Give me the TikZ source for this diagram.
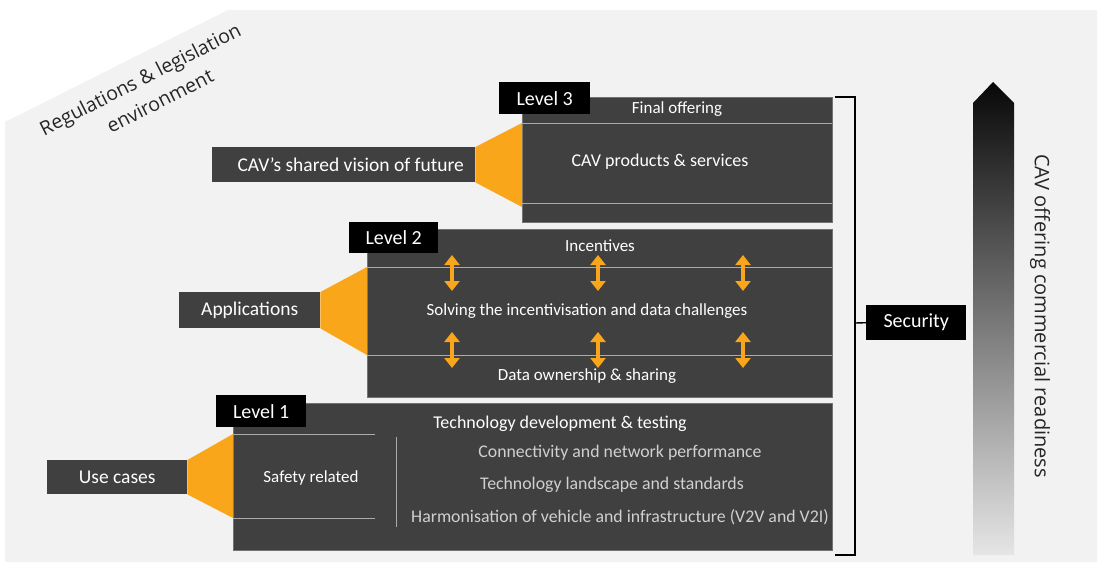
\documentclass[tikz,border=0pt]{standalone}
\usepackage{fontspec}
\setmainfont{Carlito}
\newfontfamily\outerfont{Open Sans}
\usetikzlibrary{arrows.meta}
\definecolor{panel}{HTML}{F2F2F2}
\definecolor{boxgrey}{HTML}{404040}
\definecolor{ruleline}{HTML}{ABABAB}
\definecolor{amber}{HTML}{FAA61A}
\definecolor{softtext}{HTML}{D0D0D0}
\tikzset{
  darkbox/.style={fill=boxgrey, draw=black!55, line width=0.6pt, inner sep=0pt, anchor=north west},
  levelbox/.style={fill=black, text=white, inner sep=0pt, anchor=north west, font=\fontsize{20}{24}\selectfont},
  labelbox/.style={fill=boxgrey, text=white, inner sep=0pt, anchor=north west, font=\fontsize{19.5}{23}\selectfont},
  boxtext/.style={text=white, font=\fontsize{17}{20}\selectfont},
  softline/.style={text=softtext, font=\fontsize{17.8}{21}\selectfont},
  divider/.style={draw=ruleline, line width=1pt},
  funnel/.style={fill=amber, draw=none},
  twoway/.style={draw=amber, line width=4.5pt, {Triangle[width=15pt,length=10pt]}-{Triangle[width=15pt,length=10pt]}},
  bracket/.style={draw=black, line width=1.4pt},
  outertext/.style={font=\outerfont\fontsize{19.5}{23}\selectfont, text=black!85}
}
\begin{document}
\begin{tikzpicture}[x=1pt,y=-1pt]
\useasboundingbox (0,0) rectangle (1103,565);
\fill[white] (0,0) rectangle (1103,565);
% light environment panel with cut corner
\fill[panel] (5,122) -- (228,10) -- (1097,10) -- (1097,562) -- (5,562) -- cycle;
\node[rotate=27, outertext] (envA) at (141,81) {Regulations \& legislation};
\node[rotate=27, outertext] (envB) at (160,101) {environment};

% ---------- Level 3 ----------
\node[darkbox, minimum width=310, minimum height=125] (b3) at (522,97) {};
\draw[divider] (522,123) -- (832,123);
\draw[divider] (522,203) -- (832,203);
\node[boxtext] (final) at (677,109) {Final offering};
\node[boxtext, font=\fontsize{18}{21}\selectfont] (prod) at (660,162) {CAV products \& services};
\node[labelbox, minimum width=263, minimum height=35] (vision) at (212,147) {\hspace*{14pt}CAV's shared vision of future};
\fill[funnel] (vision.north east) -- (522,123) -- (522,207) -- (vision.south east) -- cycle;
\node[levelbox, minimum width=91, minimum height=32] (lv3) at (499,82) {Level 3};

% ---------- Level 2 ----------
\node[darkbox, minimum width=465, minimum height=168] (b2) at (367,229) {};
\draw[divider] (367,267) -- (832,267);
\draw[divider] (367,355) -- (832,355);
\node[boxtext] (incent) at (600,246) {Incentives};
\node[boxtext] (solve) at (587,311) {Solving the incentivisation and data challenges};
\node[boxtext] (owner) at (587,376) {Data ownership \& sharing};
\node[labelbox, minimum width=141, minimum height=36] (apps) at (179,292) {Applications};
\fill[funnel] (apps.north east) -- (367,267) -- (367,355) -- (apps.south east) -- cycle;
\node[levelbox, minimum width=89, minimum height=31] (lv2) at (349,222) {Level 2};
\foreach \x [count=\i] in {452,598,743} {
  \coordinate (ua\i) at (\x,255); \coordinate (ub\i) at (\x,291);
  \coordinate (la\i) at (\x,332); \coordinate (lb\i) at (\x,368);
  \draw[twoway] (ua\i) -- (ub\i);
  \draw[twoway] (la\i) -- (lb\i);
}

% ---------- Level 1 ----------
\node[darkbox, minimum width=599, minimum height=147] (b1) at (233,403) {};
\draw[divider] (233,434) -- (375,434);
\draw[divider] (233,518) -- (375,518);
\draw[divider] (396,437) -- (396,527);
\node[boxtext, font=\fontsize{18}{21}\selectfont] (tech) at (560,424) {Technology development \& testing};
\node[boxtext] (safety) at (311,478) {Safety related};
\node[softline] (conn) at (620,453) {Connectivity and network performance};
\node[softline] (land) at (612,485) {Technology landscape and standards};
\node[softline] (harm) at (620,517) {Harmonisation of vehicle and infrastructure (V2V and V2I)};
\node[labelbox, minimum width=140, minimum height=34] (use) at (47,460) {Use cases};
\fill[funnel] (use.north east) -- (233,434) -- (233,518) -- (use.south east) -- cycle;
\node[levelbox, minimum width=90, minimum height=32] (lv1) at (216,395) {Level 1};

% ---------- Security bracket ----------
\node[levelbox, font=\fontsize{20}{24}\selectfont, minimum width=100, minimum height=35] (sec) at (866,305) {Security};
\coordinate (brtop) at (835,97);
\coordinate (brbot) at (835,555);
\draw[bracket] (brtop) -- (855,97) -- (855,555) -- (brbot);
\draw[bracket] (855,323) -- (sec.west);

% ---------- readiness arrow ----------
\shade[top color=black!97, middle color=black!68, bottom color=black!10]
  (973,555) -- (973,103) -- (993,82) -- (1014,103) -- (1014,555) -- cycle;
\node[rotate=-90, outertext, font=\outerfont\fontsize{20}{24}\selectfont] (ready) at (1040,316)
  {CAV offering commercial readiness};
\end{tikzpicture}
\end{document}
